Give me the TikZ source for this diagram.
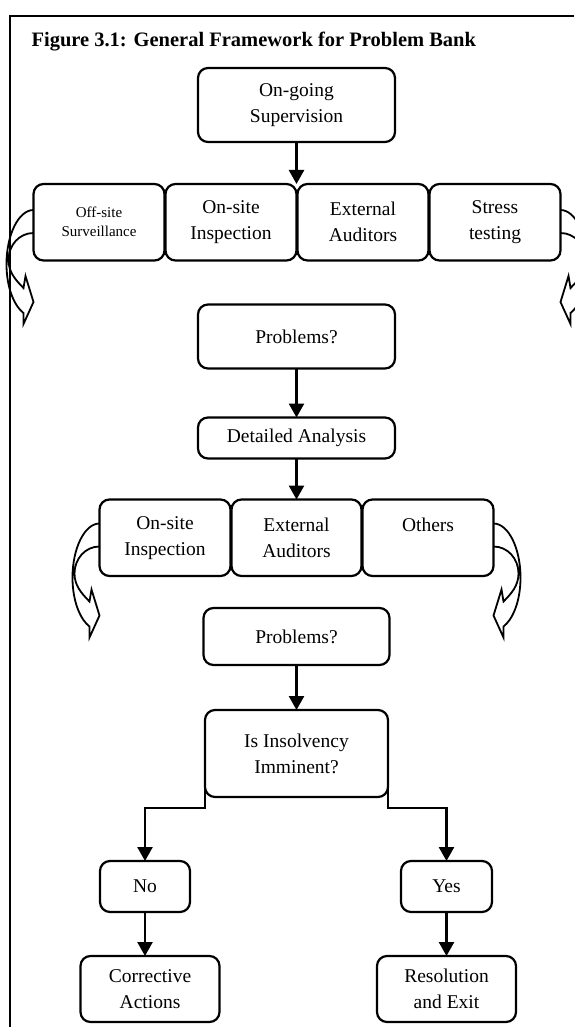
\documentclass[tikz,border=0pt]{standalone}
\usepackage{fontspec}
\setmainfont{Liberation Serif}
\usetikzlibrary{positioning,arrows.meta}

\tikzset{
  box/.style={draw, line width=2.2pt, rounded corners=10pt, outer sep=0pt,
    align=center, inner sep=2pt, font=\fontsize{19.5}{26}\selectfont},
  mainbox/.style={box, minimum width=197pt},
  rowbox/.style={box, minimum width=131pt, minimum height=76.5pt},
  flow/.style={line width=2.5pt, -{Triangle[length=14pt,width=15pt]}},
  curl/.pic={
    \draw[line width=1.8pt]
      (0,0) .. controls (-15,0) and (-27,-25) .. (-27,-54)
      .. controls (-27,-80) and (-18,-97) .. (-10,-103)
      -- (-10,-114) -- (0,-92) -- (-8,-66) -- (-10,-78)
      .. controls (-18,-70) and (-25,-62) .. (-25,-50)
      .. controls (-25,-35) and (-14,-23) .. (0,-23);
  }
}

\begin{document}
\begin{tikzpicture}[x=1pt, y=1pt]
  \useasboundingbox (0,0) rectangle (574,-1027);
  \draw[line width=1.5pt] (10,-1027) -- (10,-16) -- (574,-16);

  % Define nodes
  \node[anchor=base west, font=\bfseries\fontsize{20.5}{24}\selectfont] (title) at (28,-47)
    {Figure 3.1: General Framework for Problem Bank};
  \node[mainbox, minimum height=74pt] (sup) at (296.5,-105) {On-going\\Supervision};
  \coordinate[below=42pt of sup] (top1);
  \node[rowbox, anchor=north east] (ons1) at (top1) {On-site\\Inspection};
  \node[rowbox, left=1pt of ons1, font=\fontsize{15}{19}\selectfont] (off1) {Off-site\\Surveillance};
  \node[rowbox, right=1pt of ons1] (ext1) {External\\Auditors};
  \node[rowbox, right=1pt of ext1] (str1) {Stress\\testing};
  \node[mainbox, minimum height=64pt, below=44pt of ons1.south east] (prob1) {Problems?};
  \node[mainbox, minimum height=41pt, below=49pt of prob1] (det) {Detailed Analysis};
  \node[rowbox, minimum width=130pt, below=41pt of det] (ext2) {External\\Auditors};
  \node[rowbox, left=1pt of ext2] (ons2) {On-site\\Inspection};
  \node[rowbox, right=1pt of ext2] (oth2) {Others\\\mbox{}};
  \node[box, minimum width=186pt, minimum height=57pt, below=32pt of ext2] (prob2) {Problems?};
  \node[box, minimum width=183pt, minimum height=87pt, below=45pt of prob2] (ins) {Is Insolvency\\Imminent?};
  \node[box, minimum width=90pt, minimum height=51pt, below left=64pt and 15pt of ins.south west] (no) {No};
  \node[box, minimum width=91pt, minimum height=51pt, below right=64pt and 13pt of ins.south east] (yes) {Yes};
  \node[box, minimum width=139pt, minimum height=66pt, below=44pt of no, xshift=5pt] (corr) {Corrective\\Actions};
  \node[box, minimum width=139pt, minimum height=66pt, below=44pt of yes] (res) {Resolution\\and Exit};

  % Connect the nodes
  \draw[flow] (sup) -- (top1);
  \draw[flow] (prob1) -- (det);
  \draw[flow] (det) -- (ext2);
  \draw[flow] (prob2) -- (ins);
  \draw[flow] (ins.west) -- ([yshift=-11pt]ins.south west) -| (no);
  \draw[flow] (ins.east) -- ([yshift=-11pt]ins.south east) -| (yes);
  \draw[flow] (no) -- (no |- corr.north);
  \draw[flow] (yes) -- (res);

  % Curved arrows
  \pic at ([yshift=-26pt]off1.north west) {curl};
  \pic[xscale=-1] at ([yshift=-26pt]str1.north east) {curl};
  \pic at ([yshift=-24pt]ons2.north west) {curl};
  \pic[xscale=-1] at ([yshift=-24pt]oth2.north east) {curl};
\end{tikzpicture}
\end{document}
